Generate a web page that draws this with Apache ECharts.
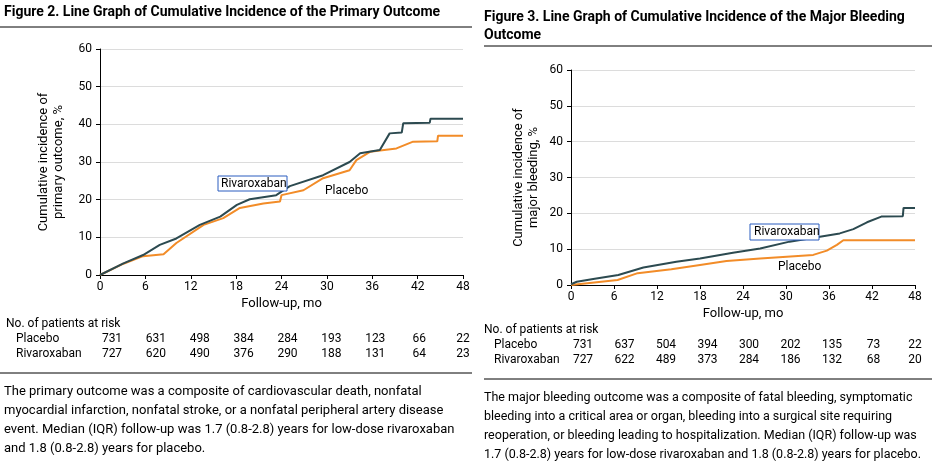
<!DOCTYPE html>
<html><head><meta charset="utf-8">
<script src="https://cdn.jsdelivr.net/npm/echarts@6/dist/echarts.min.js"></script>
<style>html,body{margin:0;padding:0;background:#fff}#c{width:932px;height:461px}</style>
</head><body><div id="c"></div>
<script>
const months = [0,6,12,18,24,30,36,42,48];
const yTicks = [0,10,20,30,40,50,60];
// Figure 2 points [month, %]
const primaryRiva = [[0,0],[3.1,3.1],[5.7,5.3],[7.9,8.0],[10.1,9.7],[13.2,13.3],[15.9,15.5],[18.1,18.6],[19.8,20.1],[23.3,21.2],[25.1,23.6],[29.5,26.5],[33,30],[34.4,32.3],[37,33.2],[38.3,37.6],[39.9,37.8],[40.1,40.3],[43.6,40.4],[43.7,41.5],[48,41.5]];
const primaryPlac = [[0,0],[3.1,3],[5.7,5],[8.4,5.5],[10.1,8.5],[13.7,13.3],[16.3,15.1],[18.5,17.8],[21.6,19],[23.8,19.5],[24.0,21.2],[26.9,22.5],[29.5,25.7],[33,27.8],[33.9,30.5],[35.7,32.7],[39.2,33.6],[41.4,35.4],[44.6,35.5],[44.7,37],[48,37]];
// Figure 3
const bleedRiva = [[0,0.2],[0.8,0.9],[3.1,1.7],[6.6,2.8],[10.1,4.9],[14.7,6.5],[18,7.4],[22.6,9],[26.4,10.2],[30.5,12.1],[34.3,13.3],[37.5,14.4],[39.4,15.6],[41.3,17.5],[43.3,19.1],[46.3,19.2],[46.4,21.5],[48,21.5]];
const bleedPlac = [[0,0],[6.5,1.4],[9.3,3.3],[14,4.4],[18,5.6],[21.7,6.7],[26.4,7.4],[33.8,8.4],[35.7,9.6],[37.1,11.2],[38,12.5],[48,12.5]];
const riskPrimaryPlac = [731,631,498,384,284,193,123,66,22];
const riskPrimaryRiva = [727,620,490,376,290,188,131,64,23];
const riskBleedPlac = [731,637,504,394,300,202,135,73,22];
const riskBleedRiva = [727,622,489,373,284,186,132,68,20];

const F = 'Roboto, "Liberation Sans", sans-serif';
const DARK = '#2c4a50', ORANGE = '#f28c28';
const G = [{left:100,top:49,width:363,height:226},{left:571,top:70,width:344,height:215}];

function xAxis(i){return {gridIndex:i,type:'value',min:0,max:48,interval:6,
  axisLine:{lineStyle:{color:'#000'}},axisTick:{length:4,lineStyle:{color:'#000'}},
  axisLabel:{color:'#000',fontSize:12,fontFamily:F,margin:6},splitLine:{show:false},
  name:'Follow-up, mo',nameLocation:'middle',nameGap:22,nameTextStyle:{color:'#000',fontSize:13,fontFamily:F}};}
function yAxis(i,name){return {gridIndex:i,type:'value',min:0,max:60,interval:10,
  axisLine:{show:true,lineStyle:{color:'#000'}},axisTick:{show:true,length:4,lineStyle:{color:'#000'}},
  axisLabel:{color:'#000',fontSize:12,fontFamily:F},splitLine:{lineStyle:{color:'#dcdcdc'}},
  name:name,nameLocation:'middle',nameGap:i?30:34,nameTextStyle:{color:'#000',fontSize:13,fontFamily:F,lineHeight:15}};}
function line(i,data,color,z){return {type:'line',xAxisIndex:i,yAxisIndex:i,data:data,symbol:'none',z:z,lineStyle:{color:color,width:2}};}

const gr = [];
function txt(x,y,t,o){gr.push(Object.assign({type:'text',x:x,y:y,style:Object.assign({text:t,fill:'#000',font:'13px '+F,textVerticalAlign:'middle'},o||{})}));}
function hl(x1,x2,y,w){gr.push({type:'line',shape:{x1:x1,y1:y,x2:x2,y2:y},style:{stroke:'#000',lineWidth:w||1}});}

txt(4,12,'Figure 2. Line Graph of Cumulative Incidence of the Primary Outcome',{font:'bold 14px '+F});
hl(0,472,27);
txt(484,17,'Figure 3. Line Graph of Cumulative Incidence of the Major Bleeding',{font:'bold 14px '+F});
txt(484,35,'Outcome',{font:'bold 14px '+F});
hl(484,932,46);

function table(gi,y0,plac,riva){
  const g=G[gi];
  txt(6+(gi?478:0),y0,'No. of patients at risk',{font:'12px '+F});
  txt(16+(gi?478:0),y0+15,'Placebo',{font:'12px '+F});
  txt(16+(gi?478:0),y0+30,'Rivaroxaban',{font:'12px '+F});
  months.forEach((m,k)=>{
    const x=g.left+m/48*g.width+12*(1-k/8);
    txt(x,y0+15,String(plac[k]),{font:'12px '+F,textAlign:'center'});
    txt(x,y0+30,String(riva[k]),{font:'12px '+F,textAlign:'center'});
  });
}
table(0,324,riskPrimaryPlac,riskPrimaryRiva);
table(1,330,riskBleedPlac,riskBleedRiva);

hl(0,472,373);
['The primary outcome was a composite of cardiovascular death, nonfatal','myocardial infarction, nonfatal stroke, or a nonfatal peripheral artery disease','event. Median (IQR) follow-up was 1.7 (0.8-2.8) years for low-dose rivaroxaban','and 1.8 (0.8-2.8) years for placebo.'].forEach((t,k)=>txt(4,392+k*19,t));
hl(484,932,379);
['The major bleeding outcome was a composite of fatal bleeding, symptomatic','bleeding into a critical area or organ, bleeding into a surgical site requiring','reoperation, or bleeding leading to hospitalization. Median (IQR) follow-up was','1.7 (0.8-2.8) years for low-dose rivaroxaban and 1.8 (0.8-2.8) years for placebo.'].forEach((t,k)=>txt(484,398+k*19,t,{font:'12.5px '+F}));

gr.push({type:'rect',shape:{x:218,y:176,width:69,height:15},style:{fill:'#fff',stroke:'#2a5cbf',lineWidth:1},z:10});
txt(221,184,'Rivaroxaban',{font:'12px '+F}); gr[gr.length-1].z=11;
txt(325,191,'Placebo',{font:'12px '+F});
gr.push({type:'rect',shape:{x:750,y:224,width:69,height:16},style:{fill:'#fff',stroke:'#2a5cbf',lineWidth:1},z:10});
txt(754,232,'Rivaroxaban',{font:'12px '+F}); gr[gr.length-1].z=11;
txt(778,267,'Placebo',{font:'12px '+F});

const chart = echarts.init(document.getElementById('c'));
chart.setOption({
  animation:false,
  grid:G,
  xAxis:[xAxis(0),xAxis(1)],
  yAxis:[yAxis(0,'Cumulative incidence of\nprimary outcome, %'),yAxis(1,'Cumulative incidence of\nmajor bleeding, %')],
  series:[line(0,primaryPlac,ORANGE,2),line(0,primaryRiva,DARK,3),line(1,bleedPlac,ORANGE,2),line(1,bleedRiva,DARK,3)],
  graphic:gr
});
</script></body></html>
